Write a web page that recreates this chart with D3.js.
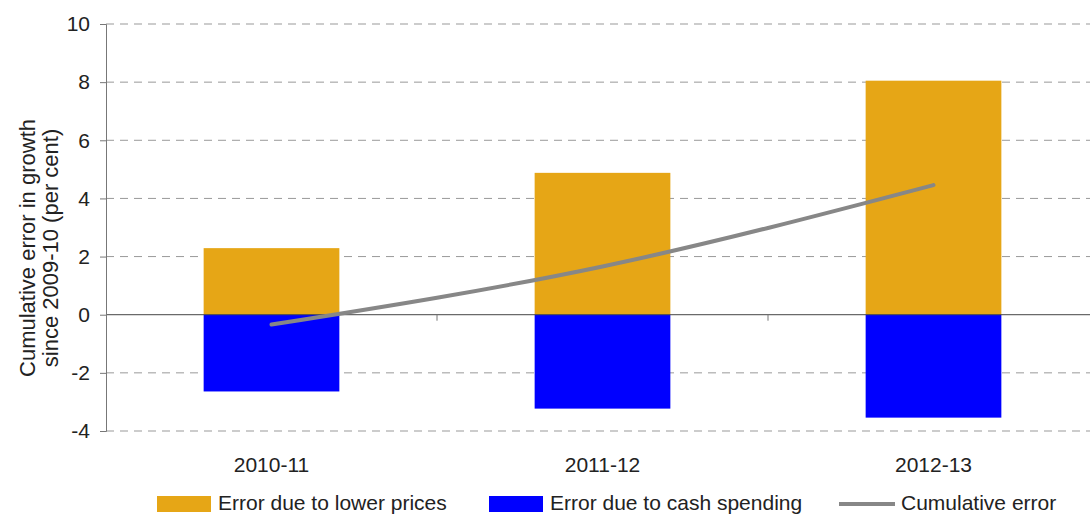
<!DOCTYPE html>
<html>
<head>
<meta charset="utf-8">
<script src="https://cdn.jsdelivr.net/npm/d3@7"></script>
<style>
	body { margin: 0; background: #fff; }
	svg { display: block; font-family: 'Liberation Sans', Arial, sans-serif; }
</style>
</head>
<body>
<svg class="chart" width="1090" height="515"></svg>
<script>
/** DATA **/
let years = ['2010-11', '2011-12', '2012-13'];
let lowerPrices = [2.29, 4.88, 8.05];
let cashSpending = [-2.64, -3.23, -3.54];
let cumulative = [-0.34, 1.66, 4.46];
let yTicks = [-4, -2, 0, 2, 4, 6, 8, 10];
let legendLabels = ['Error due to lower prices', 'Error due to cash spending', 'Cumulative error'];

/** CONSTANTS **/
let margin = { top: 24, right: -9, bottom: 84, left: 106 };
let width = 1090 - margin.left - margin.right;
let height = 515 - margin.top - margin.bottom;
let colors = { orange: '#e6a616', blue: '#0000ff', line: '#878787' };

let x = d3.scaleBand().domain(years).range([0, width]).paddingInner(0).paddingOuter(0);
let y = d3.scaleLinear().domain([-4, 10]).range([height, 0]);
let barW = x.bandwidth() * 0.41;

let svg = d3.select('.chart');
let g = svg.append('g').attr('transform', 'translate(' + margin.left + ',' + margin.top + ')');

// dashed gridlines
g.selectAll('.grid')
	.data(yTicks.filter(function(d) { return d !== 0; }))
	.enter()
	.append('line')
	.attr('x1', 0)
	.attr('x2', width)
	.attr('y1', function(d) { return y(d); })
	.attr('y2', function(d) { return y(d); })
	.attr('stroke', '#999')
	.attr('stroke-width', 1)
	.attr('stroke-dasharray', '8,6');

// bars
g.selectAll('.bar-pos')
	.data(lowerPrices)
	.enter()
	.append('rect')
	.attr('x', function(d, i) { return x(years[i]) + (x.bandwidth() - barW) / 2; })
	.attr('y', function(d) { return y(d); })
	.attr('width', barW)
	.attr('height', function(d) { return y(0) - y(d); })
	.attr('fill', colors.orange);

g.selectAll('.bar-neg')
	.data(cashSpending)
	.enter()
	.append('rect')
	.attr('x', function(d, i) { return x(years[i]) + (x.bandwidth() - barW) / 2; })
	.attr('y', y(0))
	.attr('width', barW)
	.attr('height', function(d) { return y(d) - y(0); })
	.attr('fill', colors.blue);

// zero line + category ticks
g.append('line')
	.attr('x1', 0).attr('x2', width)
	.attr('y1', y(0)).attr('y2', y(0))
	.attr('stroke', '#444').attr('stroke-width', 1);

g.selectAll('.xtick')
	.data(years.slice(1))
	.enter()
	.append('line')
	.attr('x1', function(d) { return x(d); })
	.attr('x2', function(d) { return x(d); })
	.attr('y1', y(0)).attr('y2', y(0) + 6)
	.attr('stroke', '#777');

// x labels
g.selectAll('.xlabel')
	.data(years)
	.enter()
	.append('text')
	.attr('x', function(d) { return x(d) + x.bandwidth() / 2; })
	.attr('y', height + 41)
	.attr('text-anchor', 'middle')
	.style('font-size', '21px')
	.style('fill', '#222')
	.text(function(d) { return d; });

// y axis (hyphen for minus, like the original)
let yAxis = g.append('g')
	.call(d3.axisLeft(y).tickValues(yTicks).tickSize(6).tickPadding(10)
		.tickFormat(function(d) { return String(d); }));
yAxis.select('.domain').attr('stroke', '#777');
yAxis.selectAll('.tick line').attr('stroke', '#777');
yAxis.selectAll('.tick text')
	.style('font-size', '21px')
	.style('font-family', "'Liberation Sans', Arial, sans-serif")
	.style('fill', '#222');

// cumulative line
let line = d3.line()
	.x(function(d, i) { return x(years[i]) + x.bandwidth() / 2; })
	.y(function(d) { return y(d); })
	.curve(d3.curveMonotoneX);

g.append('path')
	.datum(cumulative)
	.attr('d', line)
	.attr('fill', 'none')
	.attr('stroke', colors.line)
	.attr('stroke-width', 4)
	.attr('stroke-linecap', 'round');

// y title
let title = svg.append('text')
	.attr('transform', 'translate(0,248) rotate(-90)')
	.attr('text-anchor', 'middle')
	.style('font-size', '22px')
	.style('fill', '#222');
title.append('tspan').attr('x', 0).attr('y', 35).text('Cumulative error in growth');
title.append('tspan').attr('x', 0).attr('y', 58).text('since 2009-10 (per cent)');

// legend
let legendX = [157, 489, 839];
let legend = svg.selectAll('.legend')
	.data(legendLabels)
	.enter()
	.append('g')
	.attr('transform', function(d, i) { return 'translate(' + legendX[i] + ',504)'; });

legend.each(function(d, i) {
	let el = d3.select(this);
	if (i < 2) {
		el.append('rect')
			.attr('x', 0).attr('y', -8)
			.attr('width', 54).attr('height', 16)
			.attr('fill', i === 0 ? colors.orange : colors.blue);
	} else {
		el.append('line')
			.attr('x1', 0).attr('x2', 56)
			.attr('y1', 0).attr('y2', 0)
			.attr('stroke', colors.line)
			.attr('stroke-width', 4);
	}
});

legend.append('text')
	.attr('x', function(d, i) { return i < 2 ? 61 : 62; })
	.attr('y', 6)
	.style('font-size', '21px')
	.style('fill', '#222')
	.text(function(d) { return d; });
</script>
</body>
</html>
